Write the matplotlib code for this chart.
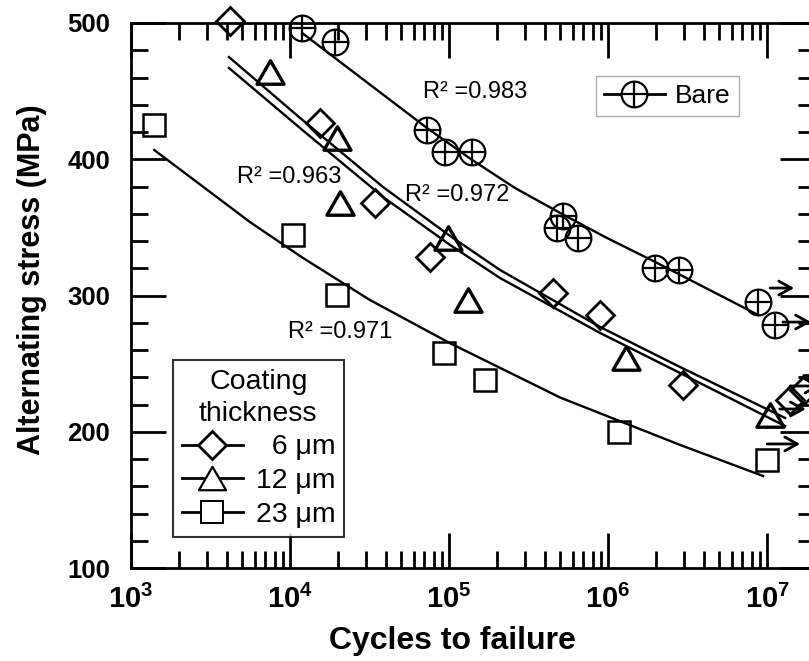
import numpy as np
import matplotlib
matplotlib.use('Agg')
import matplotlib.pyplot as plt
from matplotlib.lines import Line2D
from matplotlib.legend_handler import HandlerTuple
from matplotlib.transforms import offset_copy
from matplotlib.path import Path
from matplotlib.ticker import MultipleLocator, LogLocator, NullFormatter, FixedLocator, FixedFormatter

plt.rcParams['font.family'] = ['Liberation Sans', 'DejaVu Sans']
plt.rcParams['mathtext.fontset'] = 'custom'
plt.rcParams['mathtext.rm'] = 'Liberation Sans:bold'
plt.rcParams['mathtext.it'] = 'Liberation Sans:bold'
plt.rcParams['mathtext.bf'] = 'Liberation Sans:bold'
plt.rcParams['mathtext.default'] = 'rm'

# ---------------- data ----------------
bare_N = [1.19e4, 1.92e4, 7.27e4, 9.44e4, 1.40e5, 4.78e5, 5.21e5, 6.48e5, 1.98e6, 2.80e6, 8.78e6, 1.12e7]
bare_S = [496.3, 486.0, 421.5, 405.3, 405.3, 349.5, 358.3, 342.2, 320.2, 318.7, 295.2, 278.3]
bare_runout = [0, 0, 0, 0, 0, 0, 0, 0, 0, 0, 1, 1]

t6_N = [4.2e3, 1.55e4, 3.42e4, 7.6e4, 4.51e5, 8.9e5, 2.96e6, 1.40e7, 1.70e7]
t6_S = [501.5, 426.6, 367.9, 328.3, 301.8, 285.7, 234.3, 223.3, 231.0]
t6_runout = [0, 0, 0, 0, 0, 0, 0, 1, 1]

t12_N = [7.5e3, 1.98e4, 2.06e4, 9.86e4, 1.32e5, 1.30e6, 1.04e7]
t12_S = [464.0, 415.6, 367.9, 342.2, 296.7, 254.1, 212.3]
t12_runout = [0, 0, 0, 0, 0, 0, 1]

t23_N = [1.40e3, 1.04e4, 1.98e4, 9.3e4, 1.68e5, 1.17e6, 1.0e7]
t23_S = [425.1, 344.4, 300.4, 257.8, 238.0, 199.8, 179.3]
t23_runout = [0, 0, 0, 0, 0, 0, 1]

# fitted curves
fit_bare_N = [1.19e4, 7.27e4, 1.40e5, 2.60e5, 4.99e5, 9.58e5, 1.98e6, 8.78e6]
fit_bare_S = [492.7, 422.9, 399.4, 378.9, 360.6, 342.9, 324.6, 285.7]
fit_upper_N = [4.13e3, 1.156e4, 3.845e4, 1.015e5, 2.094e5, 8.906e5, 2.837e6, 1.298e7]
fit_upper_S = [475.0, 430.3, 379.6, 343.7, 318.7, 276.9, 247.5, 210.1]
fit_lower_N = [4.13e3, 1.156e4, 3.845e4, 1.015e5, 2.094e5, 8.906e5, 2.837e6, 1.298e7]
fit_lower_S = [467.0, 422.9, 372.3, 337.1, 312.8, 272.5, 243.1, 204.2]
fit_23_N = [1.40e3, 5.6e3, 1.2e4, 3.18e4, 1.01e5, 5.0e5, 2.84e6, 9.44e6]
fit_23_S = [406.8, 353.9, 327.7, 296.7, 265.1, 225.1, 190.3, 167.5]

r2_labels = ['R\u00b2 =0.983', 'R\u00b2 =0.963', 'R\u00b2 =0.972', 'R\u00b2 =0.971']
r2_N = [6.86e4, 4.64e3, 5.28e4, 9.71e3]
r2_S = [449.4, 387.0, 373.8, 273.2]

x_ticks = [1e3, 1e4, 1e5, 1e6, 1e7]
x_ticklabels = ['$10^{3}$', '$10^{4}$', '$10^{5}$', '$10^{6}$', '$10^{7}$']
y_ticks = [100, 200, 300, 400, 500]
y_ticklabels = ['100', '200', '300', '400', '500']

legend_title = 'Coating\nthickness'
legend_labels = ['  6 \u03bcm', '12 \u03bcm', '23 \u03bcm']
bare_label = 'Bare'
xlabel = 'Cycles to failure'
ylabel = 'Alternating stress (MPa)'

# ---------------- figure ----------------
W, H = 809, 661
fig = plt.figure(figsize=(W / 100, H / 100), dpi=100)
ax = fig.add_axes([131 / W, 1 - 568 / H, (815 - 131) / W, (568 - 23) / H])
ax.set_xscale('log')
ax.set_xlim(1e3, 2e7)
ax.set_ylim(100, 500)

for sp in ax.spines.values():
    sp.set_linewidth(2.0)

lw_fit = 1.7
ax.plot(fit_bare_N, fit_bare_S, color='black', lw=lw_fit, zorder=2)
ax.plot(fit_upper_N, fit_upper_S, color='black', lw=lw_fit, zorder=2)
ax.plot(fit_lower_N, fit_lower_S, color='black', lw=lw_fit, zorder=2)
ax.plot(fit_23_N, fit_23_S, color='black', lw=lw_fit, zorder=2)

tri = Path([(0, 0.433), (-0.5, -0.433), (0.5, -0.433), (0, 0.433)],
           [Path.MOVETO, Path.LINETO, Path.LINETO, Path.CLOSEPOLY])

sty_bare_o = dict(marker='o', ms=18.5, mfc='none', mec='black', mew=1.6, ls='none')
sty_bare_p = dict(marker='+', ms=18.5, mec='black', mew=1.6, ls='none')
sty_6 = dict(marker='D', ms=14.5, mfc='none', mec='black', mew=2.0, ls='none')
sty_12 = dict(marker=tri, ms=19.5, mfc='none', mec='black', mew=2.4, ls='none')
sty_23 = dict(marker='s', ms=16.5, mfc='none', mec='black', mew=1.8, ls='none')

ax.plot(bare_N, bare_S, zorder=4, clip_on=False, **sty_bare_o)
ax.plot(bare_N, bare_S, zorder=4, clip_on=False, **sty_bare_p)
ax.plot(t6_N, t6_S, zorder=4, clip_on=False, **sty_6)
ax.plot(t12_N, t12_S, zorder=4, clip_on=False, **sty_12)
ax.plot(t23_N, t23_S, zorder=4, clip_on=False, **sty_23)

# run-out arrows (offsets in pixels relative to the point)
def runout(N, S, dx0, dx1, dy):
    t0 = offset_copy(ax.transData, fig=fig, x=dx0, y=dy, units='dots')
    t1 = offset_copy(ax.transData, fig=fig, x=dx1, y=dy, units='dots')
    ax.annotate('', xy=(N, S), xycoords=t1, xytext=(N, S), textcoords=t0,
                arrowprops=dict(arrowstyle='->,head_length=0.9,head_width=0.5',
                                lw=2.0, color='black', shrinkA=0, shrinkB=0),
                annotation_clip=False, zorder=5)

arrow_geom = {'bare': [(12, 36, 14), (8, 36, 3)], '6': [(0, 30, 14), (0, 30, 14)],
              '12': [(10, 36, 6)], '23': [(0, 33, 16)]}
for key, Ns, Ss, ro in [('bare', bare_N, bare_S, bare_runout), ('6', t6_N, t6_S, t6_runout),
                        ('12', t12_N, t12_S, t12_runout), ('23', t23_N, t23_S, t23_runout)]:
    k = 0
    for N, S, r in zip(Ns, Ss, ro):
        if r:
            dx0, dx1, dy = arrow_geom[key][k]
            runout(N, S, dx0, dx1, dy)
            k += 1

# R^2 texts
for lab, N, S in zip(r2_labels, r2_N, r2_S):
    ax.text(N, S, lab, fontsize=17, ha='left', va='center', zorder=6)

# ticks
ax.xaxis.set_major_locator(FixedLocator(x_ticks))
ax.xaxis.set_major_formatter(FixedFormatter(x_ticklabels))
ax.xaxis.set_minor_locator(LogLocator(base=10, subs=np.arange(2, 10)))
ax.xaxis.set_minor_formatter(NullFormatter())
ax.yaxis.set_major_locator(FixedLocator(y_ticks))
ax.yaxis.set_major_formatter(FixedFormatter(y_ticklabels))
ax.yaxis.set_minor_locator(MultipleLocator(20))
ax.tick_params(which='both', direction='in', top=True, right=True, width=2.0)
ax.tick_params(which='major', length=25)
ax.tick_params(which='minor', length=12)
ax.tick_params(axis='y', which='major', labelsize=18.5, pad=15)
ax.tick_params(axis='x', which='major', labelsize=21, pad=12)
for lbl in ax.get_yticklabels():
    lbl.set_fontweight('bold')

fig.text(452 / W, 1 - 641 / H, xlabel, fontsize=23, fontweight='bold', ha='center', va='center')
fig.text(32 / W, 1 - 280 / H, ylabel, fontsize=22, fontweight='bold', ha='center', va='center',
         rotation=90)

# legends
h_bare = (Line2D([], [], color='black', lw=2.0, marker='o', ms=18.5, mfc='white', mec='black', mew=1.6),
          Line2D([], [], ls='none', marker='+', ms=18.5, mec='black', mew=1.6))
leg1 = ax.legend([h_bare], [bare_label], handler_map={tuple: HandlerTuple(ndivide=1)},
                 loc='upper left', bbox_to_anchor=(0.680, 0.903), borderaxespad=0,
                 fontsize=19, frameon=True, fancybox=False, edgecolor='#999999',
                 handlelength=2.3, handletextpad=0.4, borderpad=0.3)
leg1.get_frame().set_linewidth(1.0)
ax.add_artist(leg1)

h6 = Line2D([], [], color='black', lw=2.0, marker='D', ms=14.5, mfc='white', mec='black', mew=2.0)
h12 = Line2D([], [], color='black', lw=2.0, marker=tri, ms=19.5, mfc='white', mec='black', mew=1.6)
h23 = Line2D([], [], color='black', lw=2.0, marker='s', ms=16.5, mfc='white', mec='black', mew=1.4)
leg2 = ax.legend([h6, h12, h23], legend_labels, title=legend_title,
                 loc='upper left', bbox_to_anchor=(0.0614, 0.3817), borderaxespad=0,
                 fontsize=20.5, title_fontsize=20.5, frameon=True, fancybox=False,
                 edgecolor='black', handlelength=2.15, handletextpad=0.45, borderpad=0.3,
                 labelspacing=0.28)
leg2.get_frame().set_linewidth(1.5)
leg2.get_title().set_multialignment('center')
leg2.get_title().set_linespacing(1.3)
leg2.set_zorder(7)

fig.savefig('out.png', dpi=100)
